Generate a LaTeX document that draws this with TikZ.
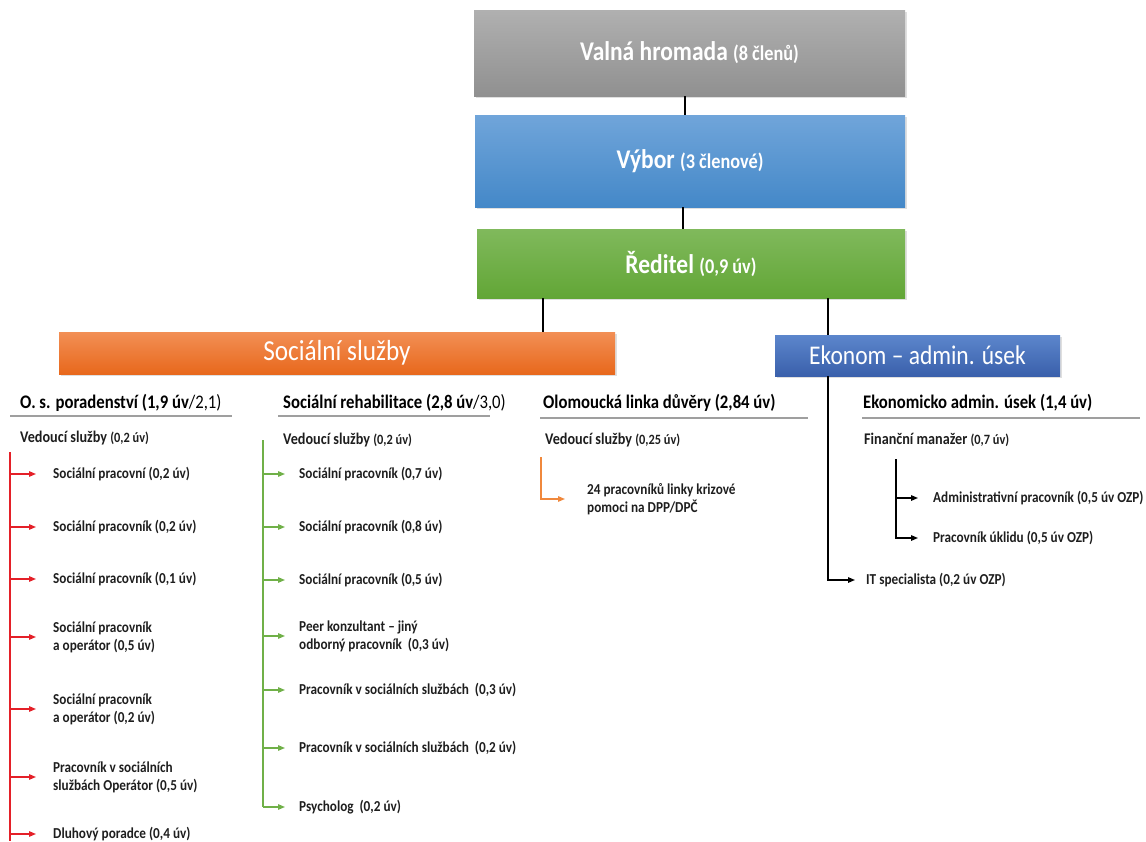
\documentclass[tikz,border=0pt]{standalone}
\usepackage{fontspec}
\setmainfont{Carlito}[FakeStretch=0.87]
\usepackage{tikz}
\usetikzlibrary{arrows.meta,shadows}
\definecolor{OrgGrayTop}{RGB}{176,176,176}
\definecolor{OrgGrayBot}{RGB}{144,144,144}
\definecolor{OrgBlueTop}{RGB}{112,165,218}
\definecolor{OrgBlueBot}{RGB}{68,136,200}
\definecolor{OrgGreenTop}{RGB}{128,185,92}
\definecolor{OrgGreenBot}{RGB}{98,166,54}
\definecolor{OrgOrangeTop}{RGB}{242,143,85}
\definecolor{OrgOrangeBot}{RGB}{232,104,28}
\definecolor{OrgNavyTop}{RGB}{92,134,204}
\definecolor{OrgNavyBot}{RGB}{58,96,171}
\definecolor{OrgRed}{RGB}{228,32,40}
\definecolor{OrgGreen}{RGB}{112,176,72}
\definecolor{OrgOrange}{RGB}{240,136,60}
\definecolor{OrgText}{RGB}{30,30,30}
\newcommand\boxbig{\fontsize{27}{32}\selectfont\bfseries}
\newcommand\boxpar{\fontsize{21}{25}\selectfont\bfseries}
\newcommand\unitbig{\fontsize{29}{34}\selectfont}
\newcommand\unitmid{\fontsize{27}{32}\selectfont}
\newcommand\headfont{\fontsize{19.2}{23}\selectfont\bfseries}
\newcommand\leadfont{\fontsize{16.3}{20}\selectfont\bfseries}
\newcommand\leadpar{\fontsize{14.2}{17}\selectfont\bfseries}
\newcommand\itemfont{\fontsize{15.2}{18}\selectfont\bfseries}

\begin{document}
\begin{tikzpicture}[x=1pt,y=-1pt,
  box/.style n args={4}{rectangle,top color=#1,bottom color=#2,minimum width=#3,minimum height=#4,text=white,inner sep=0pt,drop shadow={shadow xshift=1.5pt,shadow yshift=-1.5pt,opacity=0.25}},
  head/.style={anchor=west,inner sep=0pt,font=\headfont,text=black},
  lead/.style={anchor=west,inner sep=0pt,font=\leadfont,text=OrgText},
  itm/.style={anchor=west,inner xsep=#1,inner ysep=1pt,align=left,font=\itemfont,text=OrgText},
  itm/.default=15pt,
  hline/.style={gray!75,line width=1.4pt},
  redln/.style={OrgRed,line width=1.3pt},
  grnln/.style={OrgGreen,line width=1.3pt},
  orgln/.style={OrgOrange,line width=1.3pt},
  blkln/.style={black,line width=1.4pt},
  tip/.style={-{Triangle[length=7pt,width=5.5pt]}}]
\useasboundingbox (0,0) rectangle (1146,841);
% top of the tree
\node[box={OrgGrayTop}{OrgGrayBot}{431pt}{86pt}] (vh) at (689.5,53) {\boxbig Valná hromada {\boxpar(8 členů)}};
\node[box={OrgBlueTop}{OrgBlueBot}{430pt}{92pt}] (vybor) at (690,161) {\boxbig Výbor {\boxpar(3 členové)}};
\node[box={OrgGreenTop}{OrgGreenBot}{428pt}{69pt}] (redit) at (691,263.5) {\boxbig Ředitel {\boxpar(0,9 úv)}};
\node[box={OrgOrangeTop}{OrgOrangeBot}{556pt}{42pt}] (ss) at (337,353) {\unitbig Sociální služby};
\node[box={OrgNavyTop}{OrgNavyBot}{285pt}{41pt}] (ek) at (917.5,355.5) {\unitmid Ekonom – admin. úsek};
\coordinate (sspine) at (543,0);
\coordinate (spine) at (828,0);
\draw[blkln,line width=1.6pt] (vh.south -| 685,0) -- (vybor.north -| 685,0);
\draw[blkln,line width=1.6pt] (vybor.south -| 683,0) -- (redit.north -| 683,0);
\draw[blkln] (redit.south -| sspine) -- (ss.north -| sspine);
\draw[blkln] (redit.south -| spine) -- (ek.north -| spine);
% section headers
\node[head] (h1) at (20,403) {O. s. poradenství (1,9 úv{\mdseries/2,1)}};
\node[head] (h2) at (283,403) {Sociální rehabilitace (2,8 úv{\mdseries/3,0)}};
\node[head] (h3) at (543,403) {Olomoucká linka důvěry (2,84 úv)};
\node[head] (h4) at (863,403) {Ekonomicko admin.  úsek (1,4 úv)};
\draw[hline] (10,416) -- (232,416);
\draw[hline] (278,416) -- (490,416);
\draw[hline] (540,418) -- (808,418);
\draw[hline] (862,418) -- (1140,418);
% O. s. poradenstvi
\node[lead] (l1) at (20,438) {Vedoucí služby {\leadpar(0,2 úv)}};
\coordinate (rtop) at (10,452);
\coordinate (rbot) at (10,841);
\draw[redln] (rtop) -- (rbot);
\foreach \i/\y/\t in %
{1/474/{Sociální pracovní (0,2 úv)},2/527/{Sociální pracovník (0,2 úv)},3/579/{Sociální pracovník (0,1 úv)},4/637/{Sociální pracovník\\a operátor (0,5 úv)},5/709/{Sociální pracovník\\a operátor (0,2 úv)},6/777/{Pracovník v sociálních\\službách Operátor (0,5 úv)},7/834/{Dluhový poradce (0,4 úv)}} {
   \node[itm=17pt] (r\i) at (36,\y) {\t};
   \draw[redln,tip] (rtop |- r\i.west) -- (r\i.west);
}
% Socialni rehabilitace
\node[lead] (l2) at (283,440) {Vedoucí služby {\leadpar(0,2 úv)}};
\coordinate (gtop) at (263,440);
\foreach \i/\y/\t in %
{1/474/{Sociální pracovník (0,7 úv)},2/527/{Sociální pracovník (0,8 úv)},3/580/{Sociální pracovník (0,5 úv)},4/636/{Peer konzultant – jiný\\odborný pracovník~ (0,3 úv)},5/690/{Pracovník v sociálních službách~ (0,3 úv)},6/748/{Pracovník v sociálních službách~ (0,2 úv)},7/807/{Psycholog~ (0,2 úv)}} {
   \node[itm=14pt] (g\i) at (285,\y) {\t};
   \draw[grnln,tip] (gtop |- g\i.west) -- (g\i.west);
}
\draw[grnln] (gtop) -- (gtop |- g7.west);
% Olomoucka linka duvery
\node[lead] (l3) at (545,440) {Vedoucí služby {\leadpar(0,25 úv)}};
\coordinate (otop) at (541,457);
\node[itm=22pt] (o1) at (565,499) {24 pracovníků linky krizové\\pomoci na DPP/DPČ};
\draw[orgln,tip] (otop) |- (o1.west);
% Ekonomicko admin. usek
\node[lead] (l4) at (864,440) {Finanční manažer {\leadpar(0,7 úv)}};
\coordinate (ftop) at (896,459);
\node[itm] (a1) at (918,498) {Administrativní pracovník (0,5 úv OZP)};
\node[itm] (a2) at (918,538) {Pracovník úklidu (0,5 úv OZP)};
\draw[blkln,tip] (ftop |- a1.west) -- (a1.west);
\draw[blkln,tip] (ftop) |- (a2.west);
\node[itm=11pt] (it) at (855,580) {IT specialista (0,2 úv OZP)};
\draw[blkln,tip] (ek.south -| spine) |- (it.west);
\end{tikzpicture}
\end{document}
